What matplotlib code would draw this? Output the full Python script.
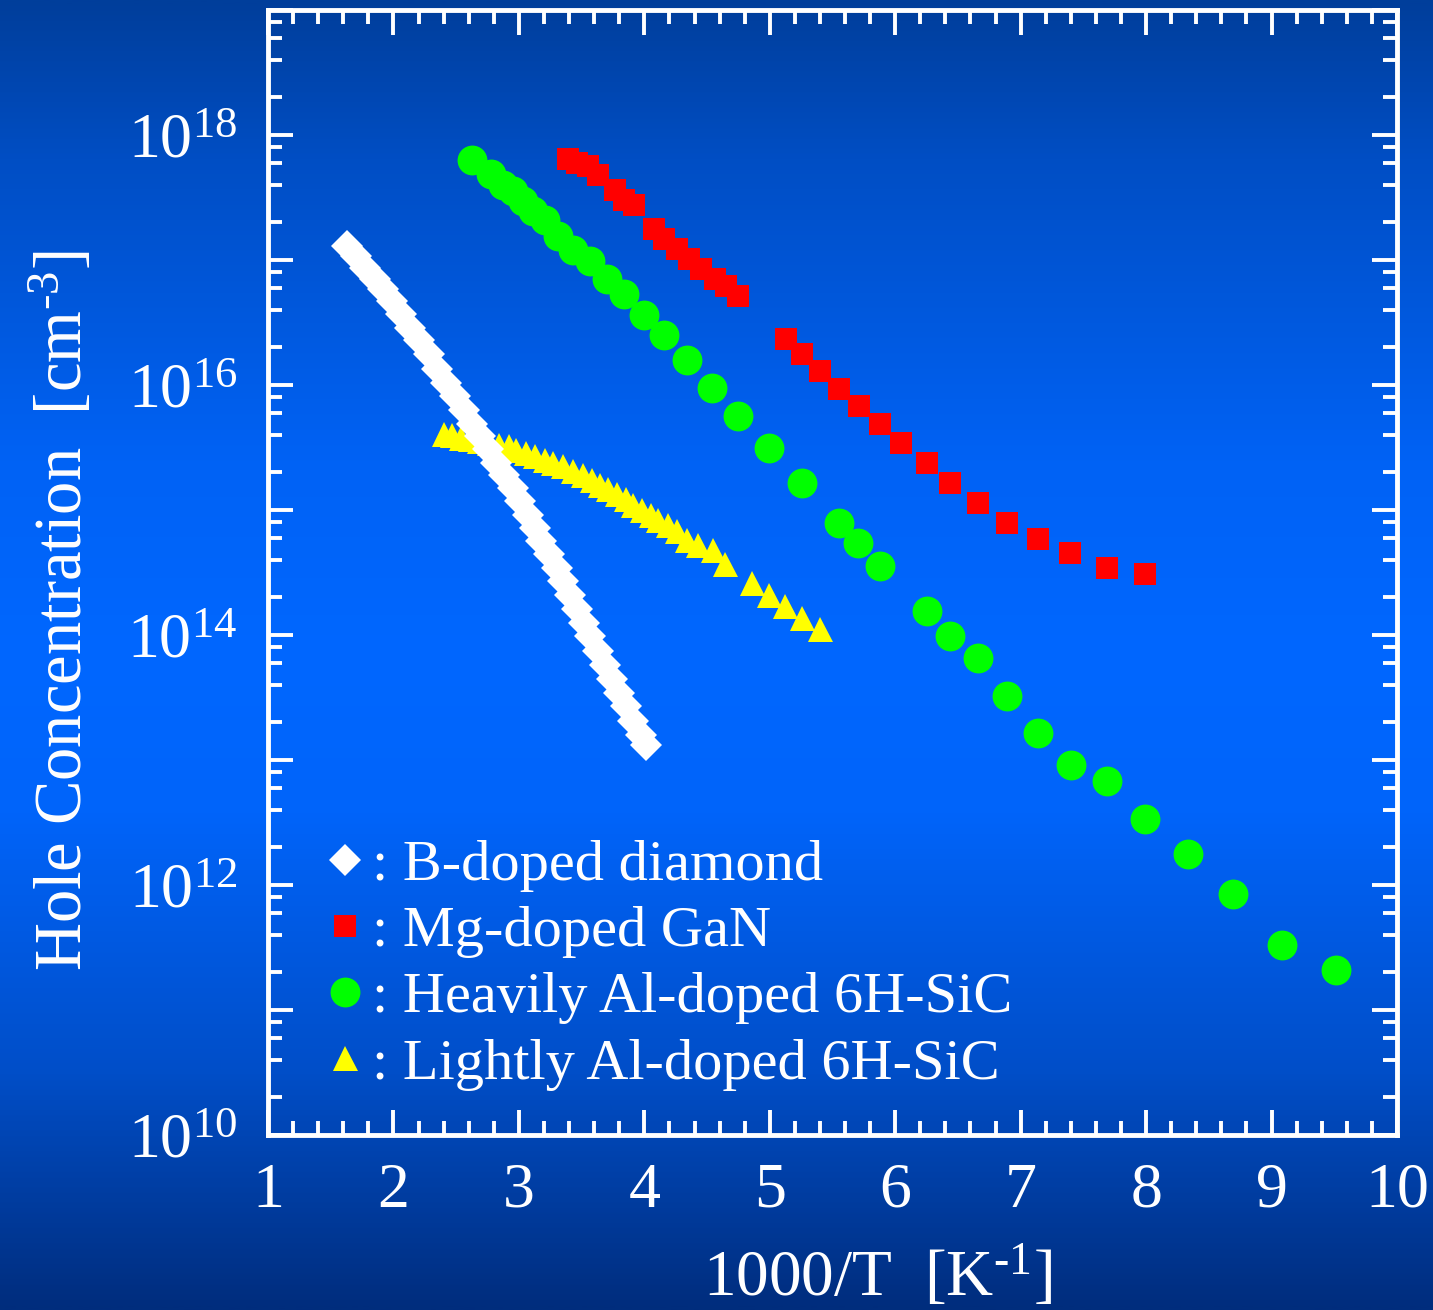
import numpy as np
import matplotlib
matplotlib.use("Agg")
import matplotlib.pyplot as plt
from matplotlib.ticker import MultipleLocator, LogLocator, FuncFormatter, NullFormatter
from matplotlib.colors import LinearSegmentedColormap

plt.rcParams['font.family'] = ['Liberation Serif', 'DejaVu Serif']
plt.rcParams['mathtext.fontset'] = 'custom'
plt.rcParams['mathtext.rm'] = 'Liberation Serif'
plt.rcParams['mathtext.default'] = 'regular'

# x = 1000/T [1/K], hole concentration given as log10(p [cm^-3])
diamond_x = [1.63, 1.70, 1.77, 1.85, 1.92, 1.99, 2.06, 2.13, 2.20, 2.28,
             2.35, 2.42, 2.49, 2.56, 2.63, 2.69, 2.75, 2.82, 2.88, 2.95,
             3.01, 3.07, 3.13, 3.18, 3.24, 3.30, 3.35, 3.41, 3.46, 3.52,
             3.57, 3.63, 3.69, 3.74, 3.80, 3.85, 3.91, 3.97, 4.01]
diamond_logp = [17.11, 17.03, 16.94, 16.85, 16.77, 16.67, 16.57, 16.46, 16.36, 16.25,
                16.13, 16.02, 15.91, 15.80, 15.69, 15.59, 15.49, 15.38, 15.28, 15.18,
                15.07, 14.96, 14.86, 14.75, 14.65, 14.54, 14.43, 14.32, 14.21, 14.10,
                13.99, 13.87, 13.76, 13.65, 13.54, 13.43, 13.31, 13.20, 13.12]

gan_x = [3.39, 3.46, 3.55, 3.63, 3.77, 3.84, 3.92, 4.08, 4.16, 4.26,
         4.36, 4.45, 4.56, 4.65, 4.75, 5.13, 5.26, 5.40, 5.55, 5.71,
         5.88, 6.05, 6.25, 6.44, 6.66, 6.89, 7.14, 7.39, 7.69, 7.99]
gan_logp = [17.81, 17.78, 17.75, 17.68, 17.56, 17.48, 17.44, 17.25, 17.17, 17.09,
            17.01, 16.93, 16.85, 16.79, 16.71, 16.37, 16.25, 16.11, 15.97, 15.83,
            15.69, 15.54, 15.38, 15.22, 15.06, 14.90, 14.77, 14.66, 14.54, 14.49]

sic_heavy_x = [2.63, 2.78, 2.87, 2.95, 3.03, 3.11, 3.21, 3.31, 3.43, 3.57,
               3.70, 3.84, 4.00, 4.16, 4.34, 4.54, 4.75, 4.99, 5.26, 5.55,
               5.70, 5.88, 6.25, 6.44, 6.66, 6.89, 7.14, 7.40, 7.69, 7.99,
               8.33, 8.69, 9.08, 9.51]
sic_heavy_logp = [17.80, 17.69, 17.60, 17.55, 17.47, 17.39, 17.32, 17.19, 17.08, 16.99,
                  16.85, 16.73, 16.56, 16.40, 16.20, 15.98, 15.75, 15.50, 15.22, 14.90,
                  14.74, 14.55, 14.19, 13.99, 13.82, 13.51, 13.22, 12.96, 12.83, 12.53,
                  12.25, 11.93, 11.52, 11.32]

sic_light_x = [2.40, 2.47, 2.54, 2.61, 2.68, 2.76, 2.84, 2.92, 2.98, 3.06,
               3.13, 3.21, 3.27, 3.35, 3.43, 3.51, 3.58, 3.65, 3.71, 3.78,
               3.85, 3.91, 3.98, 4.05, 4.11, 4.19, 4.26, 4.34, 4.43, 4.55,
               4.64, 4.86, 4.99, 5.12, 5.26, 5.40]
sic_light_logp = [15.61, 15.60, 15.58, 15.57, 15.55, 15.54, 15.52, 15.51, 15.48, 15.46,
                  15.43, 15.40, 15.38, 15.35, 15.31, 15.28, 15.24, 15.20, 15.17, 15.13,
                  15.09, 15.04, 15.00, 14.96, 14.92, 14.88, 14.83, 14.76, 14.72, 14.68,
                  14.57, 14.42, 14.32, 14.23, 14.14, 14.05]

labels = [": B-doped diamond", ": Mg-doped GaN",
          ": Heavily Al-doped 6H-SiC", ": Lightly Al-doped 6H-SiC"]

fig = plt.figure(figsize=(14.33, 13.10), dpi=100)

# blue gradient background behind everything
bg = fig.add_axes([0, 0, 1, 1], zorder=0)
stops = [(0.00, '#003e9b'), (0.12, '#004ec4'), (0.35, '#0062f5'),
         (0.50, '#0067ff'), (0.62, '#0064fa'), (0.82, '#004ec8'),
         (1.00, '#002d7d')]
cmap = LinearSegmentedColormap.from_list('bg', stops)
grad = np.linspace(0, 1, 512).reshape(-1, 1)
bg.imshow(grad, cmap=cmap, aspect='auto', extent=[0, 1, 0, 1], origin='upper')
bg.axis('off')

ax = fig.add_axes([268 / 1433, 1 - 1135 / 1310, 1129 / 1433, 1125 / 1310], zorder=1)
ax.set_facecolor('none')

tri, = ax.plot(sic_light_x, 10 ** np.array(sic_light_logp), linestyle='none',
               marker='^', ms=18, color='#ffff00', mew=0, label=labels[3])
circ, = ax.plot(sic_heavy_x, 10 ** np.array(sic_heavy_logp), linestyle='none',
                marker='o', ms=21.5, color='#00ff00', mew=0, label=labels[2])
sq, = ax.plot(gan_x, 10 ** np.array(gan_logp), linestyle='none',
              marker='s', ms=16.5, color='#ff0000', mew=0, label=labels[1])
dia, = ax.plot(diamond_x, 10 ** np.array(diamond_logp), linestyle='none',
               marker='D', ms=16.5, color='white', mew=0, label=labels[0])

ax.set_xlim(1, 10)
ax.set_yscale('log')
ax.set_ylim(1e10, 1e19)

ax.xaxis.set_major_locator(MultipleLocator(1))
ax.xaxis.set_minor_locator(MultipleLocator(0.2))
ax.yaxis.set_major_locator(LogLocator(base=10, numticks=20))
ax.yaxis.set_minor_locator(LogLocator(base=10, subs=[2, 4, 6, 8], numticks=20))
ax.yaxis.set_minor_formatter(NullFormatter())


def ylab(v, pos):
    e = int(round(np.log10(v)))
    return r'$10^{%d}$' % e if e % 2 == 0 else ''


ax.yaxis.set_major_formatter(FuncFormatter(ylab))

for s in ax.spines.values():
    s.set_color('white')
    s.set_linewidth(3.5)
ax.tick_params(which='both', direction='in', top=True, right=True,
               color='white', labelcolor='white', width=2.8)
ax.tick_params(which='major', length=18, labelsize=46)
ax.tick_params(which='minor', length=10)
ax.tick_params(axis='x', which='major', pad=20)
ax.tick_params(axis='y', which='major', pad=22)

ax.set_xlabel('1000/T  [K$^{\u2010 1}$]', fontsize=47, color='white')
ax.set_ylabel('Hole Concentration  [cm$^{\u2010 3}$]', fontsize=48, color='white')
ax.xaxis.set_label_coords(0.54, -0.096)
ax.yaxis.set_label_coords(-0.152, 0.466)

leg = ax.legend(handles=[dia, sq, circ, tri], loc='upper left',
                bbox_to_anchor=(0.055, 0.263), frameon=False, fontsize=42,
                labelcolor='white', handlelength=0.5, handletextpad=0.22,
                labelspacing=0.23, borderpad=0, borderaxespad=0)

fig.savefig('out.png', dpi=100)
